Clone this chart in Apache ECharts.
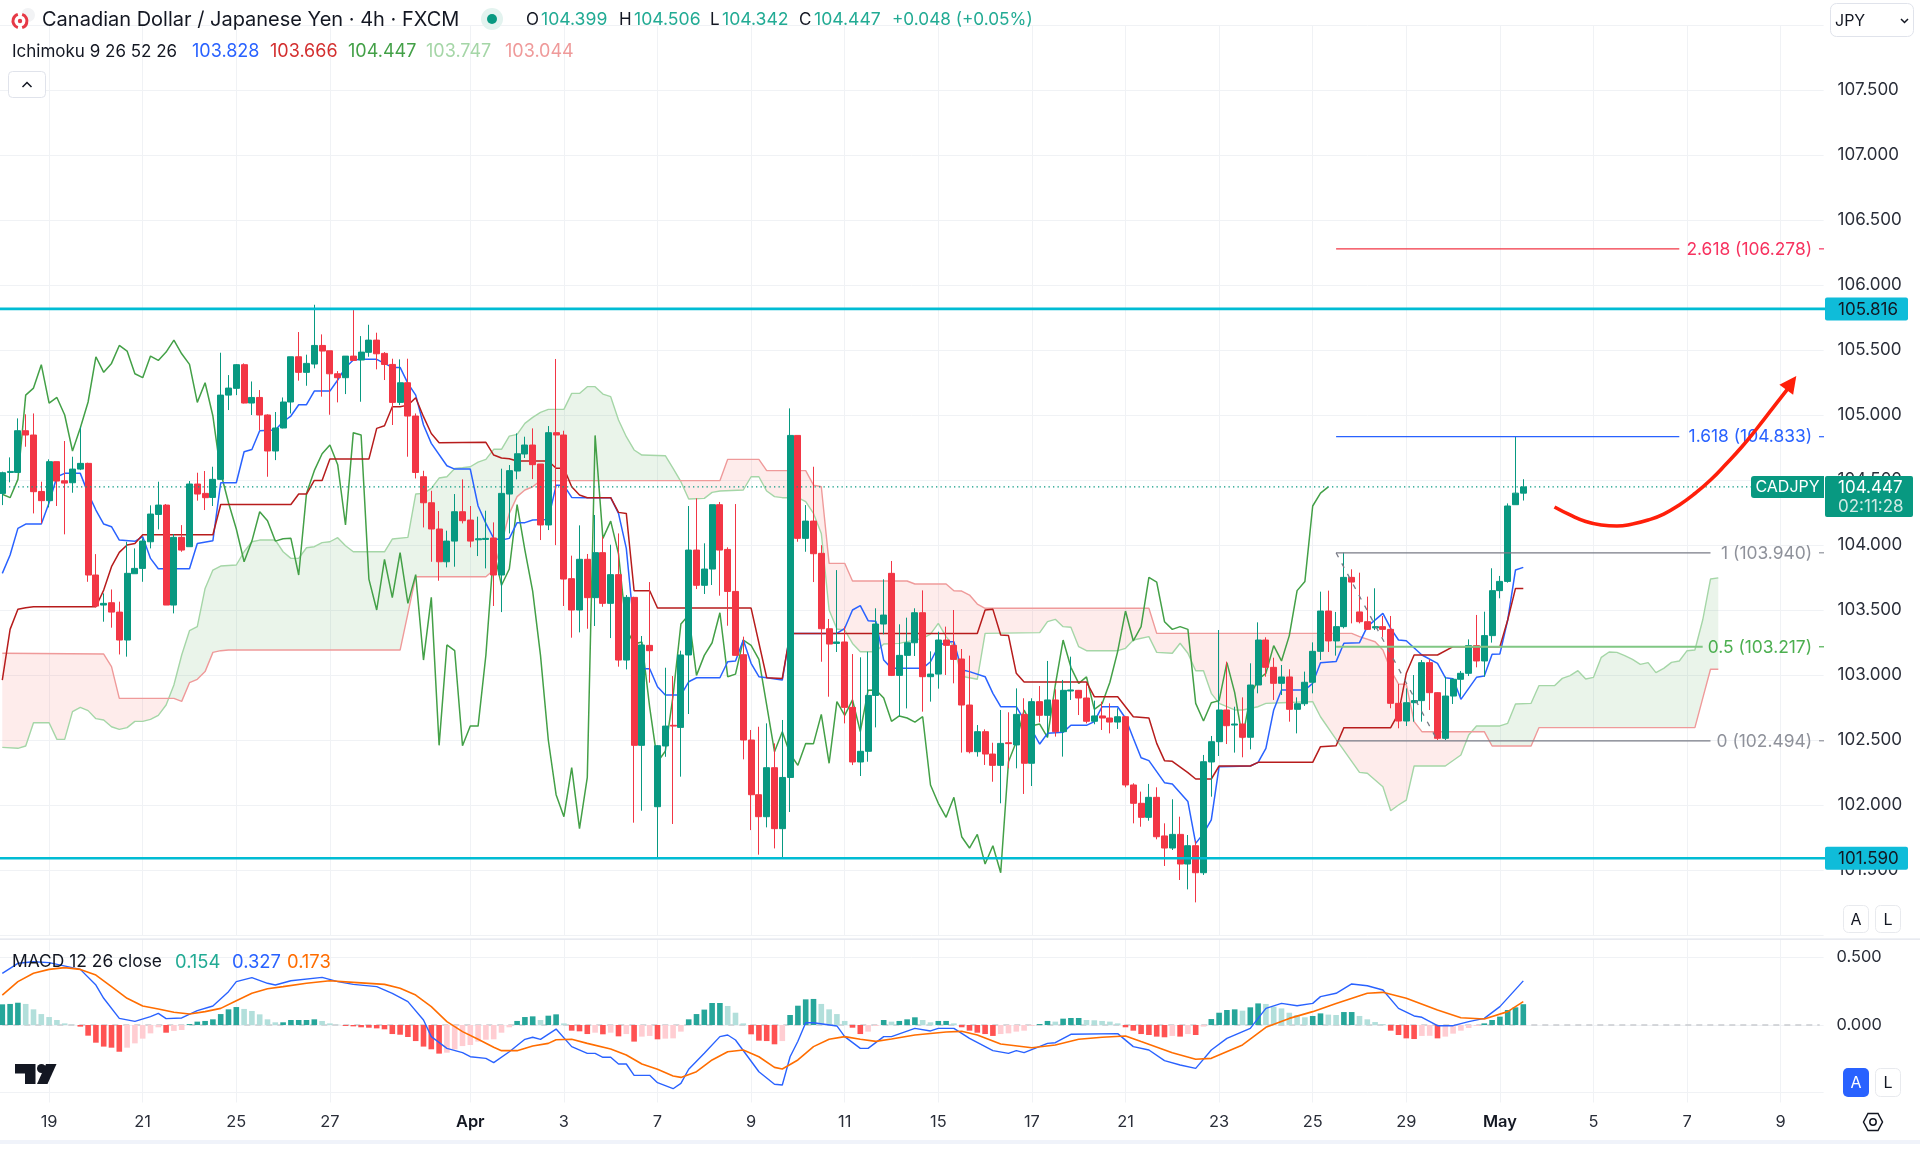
<!DOCTYPE html>
<html><head><meta charset="utf-8">
<style>html,body{margin:0;padding:0;background:#fff}#c{width:1920px;height:1151px}</style>
<script src="https://cdn.jsdelivr.net/npm/echarts@6/dist/echarts.min.js"></script>
</head><body><div id="c"></div>
<script>
// ---------- tick labels (bar index -> date label) ----------
const tickBars  = [6,18,30,42,60,72,84,96,108,120,132,144,156,168,180,192,204,216,228];
const tickTexts = ['19','21','25','27','Apr','3','7','9','11','15','17','21','23','25','29','May','5','7','9'];
const barCount = 234;

// ---------- candles [open, close, low, high] ----------
const candles = [
[104.397,104.556,104.307,104.564],[104.558,104.566,104.482,104.674],[104.558,104.879,104.558,104.974],[104.879,104.846,104.756,105.005],
[104.846,104.410,104.243,105.012],[104.412,104.341,104.166,104.487],[104.341,104.641,104.289,104.659],[104.641,104.492,104.300,104.641],
[104.494,104.476,104.082,104.800],[104.479,104.584,104.402,104.679],[104.584,104.628,104.576,104.910],[104.628,103.769,103.717,104.633],
[103.769,103.530,103.520,103.930],[103.538,103.551,103.410,103.628],[103.556,103.484,103.364,103.658],[103.484,103.269,103.158,103.564],
[103.269,103.782,103.141,104.025],[103.779,103.820,103.779,103.974],[103.820,104.030,103.717,104.051],[104.025,104.238,103.974,104.305],
[104.235,104.307,104.120,104.487],[104.307,103.538,103.538,104.315],[103.538,104.059,103.474,104.084],[104.059,103.961,103.948,104.153],
[103.987,104.469,103.987,104.492],[104.469,104.392,104.341,104.556],[104.397,104.364,104.269,104.569],[104.366,104.505,104.300,104.602],
[104.505,105.153,104.500,105.479],[105.153,105.207,105.038,105.307],[105.205,105.387,105.153,105.392],[105.387,105.092,105.089,105.397],
[105.092,105.135,105.000,105.258],[105.135,105.000,104.884,105.192],[105.000,104.723,104.525,105.005],[104.723,104.900,104.653,105.023],
[104.900,105.100,104.897,105.135],[105.100,105.448,105.012,105.448],[105.448,105.328,105.264,105.638],[105.328,105.397,105.225,105.464],
[105.392,105.535,105.359,105.848],[105.535,105.492,105.141,105.620],[105.494,105.317,105.002,105.494],[105.317,105.287,105.097,105.338],
[105.287,105.453,105.161,105.453],[105.453,105.420,105.420,105.807],[105.423,105.484,105.102,105.607],[105.482,105.576,105.448,105.694],
[105.576,105.471,105.351,105.633],[105.474,105.389,105.269,105.484],[105.389,105.097,104.923,105.433],[105.097,105.248,105.076,105.428],
[105.248,104.992,104.679,105.433],[104.992,104.558,104.512,105.012],[104.525,104.325,104.135,104.571],[104.325,104.123,103.871,104.417],
[104.123,103.871,103.725,104.261],[103.871,104.030,103.828,104.110],[104.030,104.256,103.833,104.392],[104.256,104.187,104.166,104.505],
[104.192,104.030,103.982,104.300],[104.040,104.048,103.915,104.218],[104.043,104.051,103.820,104.264],[104.054,103.769,103.531,104.174],
[103.769,104.397,103.484,104.587],[104.392,104.572,104.089,104.615],[104.569,104.702,104.505,104.859],[104.700,104.769,104.669,104.833],
[104.769,104.618,104.507,104.897],[104.623,104.154,104.038,104.623],[104.154,104.864,104.115,104.915],[104.864,104.846,103.999,105.431],
[104.846,103.738,103.531,104.879],[103.741,103.500,103.287,103.918],[103.500,103.890,103.328,104.151],[103.890,103.595,103.356,103.931],
[103.595,103.941,103.377,104.231],[103.941,103.551,103.525,104.064],[103.551,103.772,103.284,104.002],[103.772,103.115,103.064,104.089],
[103.115,103.597,103.043,103.615],[103.597,102.459,101.864,103.602],[102.459,103.231,101.956,103.300],[103.228,103.187,102.941,103.715],
[101.987,102.456,101.597,102.461],[102.454,102.607,102.371,103.056],[102.613,102.607,101.854,102.992],[102.597,103.154,102.218,103.187],
[103.154,103.961,102.700,104.300],[103.961,103.690,103.661,104.359],[103.690,103.815,103.623,104.013],[103.815,104.310,103.692,104.310],
[104.310,103.961,103.610,104.331],[103.966,103.643,103.379,103.982],[103.643,103.151,103.151,104.315],[103.156,102.500,102.351,103.295],
[102.500,102.079,101.807,102.577],[102.079,101.910,101.618,102.602],[101.910,102.287,101.828,102.628],[102.287,101.818,101.666,102.474],
[101.818,102.212,101.597,102.654],[102.212,104.843,101.946,105.051],[104.843,104.051,104.025,104.843],[104.051,104.184,103.948,104.307],
[104.184,103.933,103.715,104.602],[103.936,103.356,103.102,103.999],[103.356,103.238,102.833,103.431],[103.243,103.254,103.177,103.807],
[103.254,102.751,102.628,103.372],[102.751,102.331,102.307,103.161],[102.331,102.413,102.223,103.136],[102.413,102.843,102.333,103.179],
[102.843,103.392,102.597,103.513],[103.392,103.461,103.313,103.736],[103.782,102.997,102.992,103.877],[102.997,103.151,102.684,103.390],
[103.151,103.248,102.743,103.441],[103.248,103.479,103.146,103.513],[103.479,102.987,102.718,103.651],[102.987,103.007,102.795,103.182],
[103.007,103.269,102.895,103.333],[103.269,103.228,103.000,103.372],[103.228,103.120,102.936,103.500],[103.123,102.769,102.403,103.200],
[102.769,102.410,102.397,103.149],[102.410,102.564,102.372,102.615],[102.564,102.392,102.308,102.582],[102.392,102.305,102.179,102.479],
[102.305,102.474,102.013,102.731],[102.479,102.472,102.282,102.713],[102.462,102.697,102.282,102.897],[102.697,102.321,102.085,102.821],
[102.321,102.795,102.146,102.821],[102.795,102.690,102.636,102.915],[102.690,102.808,102.521,103.108],[102.808,102.564,102.526,102.890],
[102.564,102.882,102.372,102.962],[102.877,102.885,102.808,103.141],[102.882,102.823,102.692,102.885],[102.823,102.644,102.628,102.936],
[102.644,102.685,102.621,102.803],[102.685,102.669,102.577,102.795],[102.669,102.638,102.551,102.782],[102.638,102.679,102.585,102.744],
[102.679,102.154,102.136,102.685],[102.154,102.013,101.859,102.167],[102.013,101.905,101.833,102.103],[101.905,102.059,101.879,102.162],
[102.059,101.756,101.736,102.136],[101.762,101.669,101.531,101.859],[101.669,101.774,101.654,102.044],[101.774,101.546,101.423,101.910],
[101.546,101.687,101.351,101.769],[101.687,101.479,101.251,101.726],[101.479,102.333,101.462,102.385],[102.331,102.487,102.064,102.531],
[102.487,102.731,102.377,103.346],[102.731,102.610,102.469,103.103],[102.615,102.623,102.403,102.756],[102.623,102.521,102.367,102.828],
[102.521,102.923,102.428,103.090],[102.923,103.269,102.859,103.405],[103.269,103.059,102.987,103.290],[103.059,102.936,102.808,103.133],
[102.936,102.985,102.846,103.077],[102.985,102.736,102.641,103.044],[102.736,102.779,102.551,102.828],[102.779,102.944,102.762,103.026],
[102.944,103.182,102.859,103.251],[103.182,103.492,103.115,103.641],[103.492,103.262,103.177,103.649],[103.262,103.372,103.149,103.485],
[103.372,103.751,103.359,103.941],[103.751,103.715,103.397,103.813],[103.485,103.410,103.397,103.787],[103.410,103.351,103.346,103.603],
[103.362,103.372,103.346,103.667],[103.372,103.351,103.290,103.454],[103.351,102.782,102.744,103.454],[102.782,102.646,102.590,102.931],
[102.646,102.787,102.608,102.897],[102.787,102.803,102.641,103.000],[102.803,103.095,102.641,103.115],[103.095,102.864,102.731,103.121],
[102.864,102.513,102.500,102.867],[102.513,102.838,102.500,102.987],[102.838,102.967,102.777,102.974],[102.967,103.013,102.833,103.031],
[103.013,103.226,102.992,103.274],[103.226,103.108,103.059,103.462],[103.108,103.303,102.987,103.487],[103.303,103.649,103.249,103.821],
[103.649,103.720,103.590,103.762],[103.720,104.300,103.710,104.320],[104.310,104.399,104.310,104.833],[104.399,104.447,104.342,104.506]
];

// ---------- Ichimoku, as [bar, price] vertices ----------
const tenkan = [[0,103.782],[1,103.923],[2,104.128],[3,104.161],[5,104.161],[6,104.325],[7,104.525],[8,104.551],[10,104.551],[11,104.397],[12,104.269],[13,104.161],[14,104.141],[15,104.038],[17,104.028],[18,104.064],[19,103.897],[20,103.817],[24,103.817],[25,104.012],[27,104.033],[28,104.479],[30,104.479],[31,104.717],[32,104.735],[33,104.879],[35,104.884],[36,104.948],[37,104.992],[38,105.079],[39,105.079],[40,105.184],[42,105.184],[43,105.269],[44,105.366],[45,105.423],[46,105.428],[48,105.428],[50,105.366],[51,105.366],[52,105.243],[53,105.153],[54,104.923],[55,104.782],[57,104.610],[58,104.584],[60,104.584],[61,104.300],[62,104.166],[63,104.051],[64,104.038],[65,104.051],[66,104.172],[67,104.172],[68,104.192],[70,104.197],[71,104.459],[72,104.459],[73,104.366],[75,104.364],[78,104.364],[79,104.243],[80,103.974],[81,103.359],[82,103.048],[83,103.048],[84,102.910],[85,102.846],[87,102.846],[88,102.948],[89,102.979],[92,102.979],[93,103.102],[94,103.107],[95,103.269],[96,103.090],[97,102.987],[98,102.979],[100,102.961],[101,103.320],[107,103.320],[108,103.359],[109,103.500],[110,103.533],[111,103.418],[112,103.413],[113,103.115],[114,103.051],[118,103.051],[119,103.102],[120,103.218],[121,103.256],[122,103.256],[123,103.040],[124,103.026],[126,102.987],[127,102.859],[128,102.756],[130,102.756],[131,102.654],[132,102.577],[133,102.469],[134,102.551],[136,102.559],[137,102.613],[139,102.613],[140,102.641],[141,102.756],[143,102.756],[144,102.667],[145,102.513],[146,102.364],[147,102.341],[149,102.172],[150,102.162],[152,102.026],[153,101.705],[154,101.782],[155,101.885],[156,102.295],[160,102.300],[161,102.328],[162,102.436],[163,102.731],[164,102.885],[167,102.885],[168,102.936],[169,103.095],[171,103.103],[172,103.244],[174,103.249],[175,103.372],[177,103.474],[178,103.359],[179,103.269],[180,103.264],[182,103.154],[184,103.090],[185,102.979],[186,102.972],[187,102.813],[189,102.982],[190,102.992],[191,103.159],[192,103.162],[193,103.423],[194,103.808],[195,103.828]];
const kijun = [[0,102.961],[1,103.351],[2,103.505],[3,103.517],[4,103.525],[12,103.525],[13,103.653],[14,103.833],[15,103.943],[16,104.000],[17,104.012],[18,104.079],[27,104.079],[28,104.312],[37,104.312],[38,104.392],[39,104.392],[40,104.497],[41,104.497],[42,104.661],[47,104.661],[48,104.897],[49,104.917],[50,105.064],[51,105.064],[52,105.076],[53,105.133],[54,104.987],[55,104.858],[56,104.787],[62,104.790],[63,104.692],[64,104.669],[65,104.664],[66,104.646],[70,104.646],[71,104.590],[72,104.590],[73,104.448],[74,104.384],[75,104.364],[78,104.364],[79,104.251],[80,104.243],[81,103.648],[83,103.648],[84,103.515],[96,103.515],[98,102.979],[100,102.974],[101,103.320],[125,103.320],[126,103.500],[127,103.505],[128,103.308],[129,103.303],[130,103.013],[131,102.946],[139,102.946],[140,102.833],[143,102.833],[145,102.679],[147,102.669],[148,102.474],[149,102.341],[150,102.336],[152,102.249],[153,102.200],[155,102.200],[156,102.300],[160,102.300],[161,102.328],[168,102.328],[169,102.449],[171,102.456],[172,102.595],[178,102.595],[179,102.705],[180,103.013],[181,103.154],[184,103.154],[186,103.218],[192,103.218],[193,103.423],[194,103.666],[195,103.666]];
const chikou = [104.39,104.364,104.505,105.153,105.207,105.387,105.092,105.135,105.000,104.723,104.900,105.100,105.448,105.328,105.397,105.535,105.492,105.317,105.287,105.453,105.420,105.484,105.576,105.471,105.389,105.097,105.248,104.992,104.558,104.325,104.123,103.871,104.030,104.256,104.187,104.030,104.048,104.051,103.769,104.397,104.572,104.702,104.769,104.618,104.154,104.864,104.846,103.738,103.500,103.890,103.595,103.941,103.551,103.772,103.115,103.597,102.459,103.231,103.187,102.456,102.607,102.607,103.154,103.961,103.690,103.815,104.310,103.961,103.643,103.151,102.500,102.079,101.910,102.287,101.818,102.212,104.843,104.051,104.184,103.933,103.356,103.238,103.254,102.751,102.331,102.413,102.843,103.392,103.461,102.997,103.151,103.248,103.479,102.987,103.007,103.269,103.228,103.120,102.769,102.410,102.564,102.392,102.305,102.474,102.472,102.697,102.321,102.795,102.690,102.808,102.564,102.882,102.885,102.823,102.644,102.685,102.669,102.638,102.679,102.154,102.013,101.905,102.059,101.756,101.669,101.774,101.546,101.687,101.479,102.333,102.487,102.731,102.610,102.623,102.521,102.923,103.269,103.059,102.936,102.985,102.736,102.779,102.944,103.182,103.492,103.262,103.372,103.751,103.715,103.410,103.351,103.372,103.351,102.782,102.646,102.787,102.803,103.095,102.864,102.513,102.838,102.967,103.013,103.226,103.108,103.303,103.649,103.720,104.300,104.399,104.447];
const senkouA = [[0,102.443],[2,102.436],[3,102.454],[4,102.633],[6,102.633],[7,102.505],[8,102.505],[9,102.718],[10,102.751],[11,102.726],[12,102.664],[13,102.654],[14,102.602],[15,102.582],[16,102.595],[17,102.643],[18,102.643],[19,102.659],[20,102.690],[21,102.769],[22,102.923],[23,103.154],[24,103.341],[25,103.372],[26,103.666],[27,103.807],[28,103.838],[30,103.846],[31,103.948],[32,104.025],[33,104.038],[35,104.038],[36,103.948],[37,103.897],[38,103.897],[39,103.979],[40,103.987],[41,104.018],[42,104.025],[43,104.056],[44,103.994],[45,103.948],[49,103.948],[50,104.046],[52,104.059],[53,104.392],[54,104.397],[55,104.435],[56,104.515],[57,104.525],[58,104.589],[59,104.594],[60,104.602],[61,104.638],[62,104.659],[63,104.736],[64,104.736],[65,104.838],[66,104.851],[67,104.936],[68,104.982],[69,105.020],[70,105.043],[72,105.043],[73,105.166],[74,105.166],[75,105.218],[76,105.218],[77,105.161],[78,105.141],[79,104.961],[80,104.833],[81,104.731],[82,104.692],[85,104.687],[86,104.590],[87,104.487],[88,104.354],[90,104.359],[91,104.405],[92,104.415],[95,104.423],[96,104.525],[97,104.525],[98,104.415],[99,104.372],[100,104.364],[102,104.364],[103,104.333],[104,104.243],[105,104.089],[106,103.500],[107,103.354],[108,103.346],[109,103.243],[110,103.179],[112,103.179],[113,103.238],[115,103.243],[118,103.282],[119,103.315],[120,103.397],[121,103.295],[122,103.218],[123,102.990],[125,102.967],[126,103.320],[133,103.326],[134,103.410],[135,103.428],[136,103.372],[137,103.367],[138,103.218],[139,103.187],[143,103.187],[144,103.205],[145,103.269],[147,103.295],[148,103.174],[150,103.167],[151,103.244],[152,103.167],[153,103.033],[154,103.033],[155,102.859],[156,102.782],[158,102.731],[159,102.731],[161,102.756],[162,102.782],[164,102.787],[168,102.795],[169,102.679],[171,102.505],[174,102.251],[175,102.244],[177,102.141],[178,101.956],[179,102.000],[180,102.038],[181,102.300],[185,102.300],[187,102.385],[188,102.538],[189,102.608],[192,102.608],[193,102.628],[194,102.777],[196,102.782],[197,102.918],[199,102.918],[200,102.974],[201,102.995],[202,103.033],[203,102.969],[204,102.982],[205,103.136],[206,103.177],[207,103.174],[208,103.149],[209,103.120],[210,103.082],[211,103.095],[212,103.018],[213,103.051],[214,103.097],[215,103.108],[216,103.187],[217,103.192],[218,103.423],[219,103.738],[220,103.747]];
const senkouB = [[0,103.167],[13,103.161],[14,103.064],[15,102.820],[22,102.820],[23,102.797],[24,102.941],[25,102.967],[26,103.026],[27,103.174],[28,103.187],[29,103.192],[51,103.192],[52,103.474],[53,103.756],[62,103.756],[63,103.807],[64,104.013],[65,104.243],[66,104.372],[67,104.423],[68,104.448],[69,104.495],[92,104.495],[93,104.659],[97,104.659],[98,104.572],[103,104.572],[104,104.461],[105,104.448],[106,103.859],[108,103.859],[109,103.723],[116,103.723],[117,103.700],[121,103.700],[122,103.648],[123,103.646],[124,103.615],[125,103.546],[126,103.513],[147,103.513],[148,103.320],[173,103.320],[174,103.295],[176,103.256],[177,103.192],[178,103.038],[179,102.931],[180,102.928],[181,102.641],[182,102.564],[190,102.564],[191,102.454],[196,102.454],[197,102.595],[217,102.595],[218,102.820],[219,103.044],[220,103.044]];

// ---------- annotations ----------
const levelPrices = [105.816, 101.590];
const lastPrice = 104.447;
const fibLevels = ['2.618','1.618','1','0.5','0'];
const fibPrices = [106.278,104.833,103.940,103.217,102.494];
const fibStart  = [171,171,171,171,171];
const fibEnd    = [215,215,219,218,219];
const fibColors = ['#F23645','#2962FF','#787B86','#81C784','#787B86'];
const fibText   = ['#F7325F','#2962FF','#8F929B','#4CAF50','#8F929B'];
const fibTrend  = [[171,103.940],[184,102.494]];
const arrowPath = [[199,104.292],[201,104.231],[203,104.181],[205,104.154],[207,104.146],[209,104.162],[211,104.192],[213,104.238],[215,104.308],[217,104.396],[219,104.500],[221,104.623],[223,104.754],[225,104.900],[227,105.054],[229,105.208]];
const arrowTip  = [[230,105.300]];

// ---------- MACD ----------
const macdHist = [.153,.156,.165,.156,.116,.081,.059,.037,.012,.002,-.012,-.079,-.131,-.160,-.168,-.198,-.168,-.136,-.101,-.062,-.017,-.057,-.044,-.037,.007,.025,.030,.042,.081,.116,.133,.119,.104,.079,.042,.020,.020,.037,.037,.037,.042,.030,.012,.002,-.007,-.010,-.017,-.020,-.025,-.032,-.067,-.072,-.089,-.119,-.160,-.180,-.212,-.205,-.180,-.156,-.148,-.123,-.109,-.106,-.057,-.017,.030,.059,.064,.037,.069,.079,.012,-.042,-.047,-.067,-.057,-.069,-.057,-.084,-.067,-.123,-.086,-.081,-.106,-.101,-.099,-.049,.042,.081,.114,.163,.163,.141,.091,.012,-.069,-.116,-.119,-.143,-.119,.074,.143,.190,.193,.156,.116,.081,.030,-.020,-.067,-.049,-.007,.037,.025,.030,.042,.057,.037,.020,.030,.030,.012,-.017,-.042,-.057,-.067,-.081,-.067,-.062,-.049,-.042,-.007,.007,.030,.025,.047,.052,.052,.037,.035,.030,.025,.012,-.017,-.042,-.067,-.074,-.086,-.091,-.081,-.086,-.067,-.074,-.012,.044,.091,.111,.116,.106,.131,.160,.156,.136,.123,.091,.074,.057,.067,.086,.077,.074,.096,.096,.067,.042,.022,.007,-.042,-.074,-.099,-.104,-.081,-.080,-.099,-.086,-.064,-.042,-.022,-.007,.012,.037,.062,.111,.131,.154];
const macdLine = [[0,.383],[2,.457],[4,.469],[6,.462],[10,.412],[12,.296],[13,.198],[15,.049],[17,.027],[19,.062],[20,.086],[21,.047],[23,.052],[25,.106],[27,.141],[29,.247],[30,.321],[32,.351],[34,.309],[35,.296],[37,.328],[41,.353],[43,.321],[45,.301],[48,.284],[50,.235],[52,.173],[54,.037],[55,-.086],[57,-.173],[59,-.205],[60,-.235],[62,-.247],[63,-.279],[65,-.198],[67,-.106],[68,-.091],[69,-.106],[71,-.030],[73,-.160],[75,-.210],[76,-.210],[77,-.239],[78,-.239],[79,-.289],[80,-.289],[81,-.373],[83,-.373],[84,-.427],[86,-.472],[87,-.432],[88,-.328],[90,-.210],[92,-.086],[93,-.074],[94,-.111],[97,-.346],[99,-.439],[100,-.444],[101,-.235],[102,-.120],[103,.017],[104,.017],[107,-.007],[108,-.086],[110,-.173],[111,-.173],[113,-.086],[114,-.086],[117,-.025],[119,-.044],[120,-.025],[122,-.025],[124,-.099],[127,-.190],[129,-.210],[130,-.190],[131,-.205],[134,-.136],[135,-.131],[137,-.069],[143,-.064],[145,-.160],[147,-.185],[149,-.264],[151,-.296],[153,-.321],[155,-.185],[157,-.099],[160,-.025],[162,.123],[164,.160],[166,.143],[168,.160],[169,.210],[171,.235],[173,.304],[175,.291],[177,.259],[179,.123],[181,.067],[182,.057],[184,-.005],[186,-.005],[188,.025],[190,.049],[192,.136],[195,.327]];
const macdSignal = [[0,.222],[2,.321],[4,.383],[6,.412],[8,.425],[10,.412],[12,.370],[14,.284],[16,.198],[18,.141],[20,.119],[22,.094],[24,.081],[26,.099],[28,.123],[30,.180],[32,.235],[34,.269],[36,.284],[39,.309],[42,.328],[45,.316],[49,.301],[51,.272],[53,.222],[55,.136],[57,.025],[59,-.049],[61,-.106],[63,-.165],[64,-.190],[66,-.190],[68,-.156],[70,-.136],[71,-.109],[73,-.106],[75,-.136],[78,-.178],[80,-.222],[82,-.289],[84,-.328],[86,-.378],[87,-.388],[89,-.346],[91,-.259],[93,-.198],[95,-.185],[97,-.235],[99,-.314],[100,-.326],[102,-.259],[104,-.160],[106,-.106],[108,-.086],[110,-.106],[112,-.121],[114,-.104],[117,-.074],[121,-.052],[123,-.047],[125,-.074],[128,-.141],[132,-.168],[135,-.148],[138,-.106],[141,-.091],[144,-.081],[146,-.123],[150,-.205],[153,-.254],[155,-.247],[159,-.148],[162,-.017],[165,.049],[168,.099],[171,.160],[175,.235],[177,.242],[180,.198],[184,.111],[187,.054],[190,.044],[193,.099],[195,.173]];
const macdZero = [[0,0],[233,0]];

// ---------- layout / palette ----------
const FONT = 'Inter, "Noto Sans", sans-serif';
const UP = '#089981', DOWN = '#F23645', GRID = '#F0F2F5', TXT = '#131722';
const plotL = -1.6, plotW = 1825.2, plotR = plotL + plotW;
const AXIS_FS = 17;

const categories = Array.from({length: barCount}, (_, i) => {
  const k = tickBars.indexOf(i); return k >= 0 ? tickTexts[k] : '';
});
const isTick = i => tickBars.includes(i);

function lerp(pts, x) {
  for (let k = 0; k < pts.length - 1; k++) {
    const a = pts[k], b = pts[k + 1];
    if (x >= a[0] && x <= b[0]) return a[1] + (b[1] - a[1]) * (x - a[0]) / (b[0] - a[0]);
  }
  return pts[pts.length - 1][1];
}

function renderCloud(params, api) {
  const polys = []; let top = [], bot = [], sign = null, prev = null;
  for (let k = 0; k <= 220; k++) {
    const a = lerp(senkouA, k), b = lerp(senkouB, k), s = a >= b;
    const P = api.coord([k, a]), Q = api.coord([k, b]);
    if (sign !== null && s !== sign) {
      const d0 = prev.a - prev.b, d1 = a - b, t = d0 / (d0 - d1);
      const X = [prev.P[0] + t * (P[0] - prev.P[0]), prev.P[1] + t * (P[1] - prev.P[1])];
      top.push(X); bot.push(X);
      polys.push({sign, pts: top.concat(bot.slice().reverse())});
      top = [X]; bot = [X];
    }
    top.push(P); bot.push(Q); sign = s; prev = {a, b, P};
  }
  polys.push({sign, pts: top.concat(bot.slice().reverse())});
  return {type: 'group', children: polys.map(p => ({
    type: 'polygon', shape: {points: p.pts}, silent: true,
    style: {fill: p.sign ? 'rgba(67,160,71,0.115)' : 'rgba(244,67,54,0.10)'}
  }))};
}

function renderFib(params, api) {
  const k = params.dataIndex, p = fibPrices[k];
  const a = api.coord([fibStart[k], p]), b = api.coord([fibEnd[k], p]);
  return {type: 'group', silent: true, children: [
    {type: 'line', shape: {x1: a[0], y1: a[1], x2: b[0], y2: b[1]},
      style: {stroke: fibColors[k], lineWidth: k === 3 ? 2 : 1.2}},
    {type: 'text', style: {text: fibLevels[k] + ' (' + p.toFixed(3) + ')', x: 1812, y: a[1] + 0.5, align: 'right',
      verticalAlign: 'middle', fill: fibText[k], font: '17.4px ' + FONT}},
    {type: 'line', shape: {x1: 1819, y1: a[1], x2: 1824, y2: a[1]}, style: {stroke: fibText[k], lineWidth: 1.2}}
  ]};
}

function renderLevel(params, api) {
  const y = api.coord([0, levelPrices[params.dataIndex]])[1];
  return {type: 'group', silent: true, children: [
    {type: 'line', shape: {x1: 0, y1: y, x2: 1825, y2: y}, style: {stroke: '#00BCD4', lineWidth: 2.6}},
    {type: 'rect', shape: {x: 1825, y: y - 11.5, width: 83, height: 23, r: 2}, style: {fill: '#0FBCD9'}},
    {type: 'text', style: {text: levelPrices[params.dataIndex].toFixed(3), x: 1838, y: y + 1, verticalAlign: 'middle', fill: TXT, font: AXIS_FS + 'px ' + FONT}}
  ]};
}

function renderLast(params, api) {
  const y = api.coord([0, lastPrice])[1];
  return {type: 'group', silent: true, children: [
    {type: 'line', shape: {x1: 0, y1: y, x2: 1751, y2: y}, style: {stroke: UP, lineWidth: 1.3, lineDash: [1.3, 3.2]}},
    {type: 'rect', shape: {x: 1751, y: y - 11, width: 73, height: 22, r: [3, 0, 0, 3]}, style: {fill: UP}},
    {type: 'text', style: {text: 'CADJPY', x: 1787.5, y: y + 0.5, align: 'center', verticalAlign: 'middle', fill: '#fff', font: '16px ' + FONT}},
    {type: 'rect', shape: {x: 1825, y: y - 11, width: 88, height: 41, r: 2}, style: {fill: UP}},
    {type: 'text', style: {text: lastPrice.toFixed(3), x: 1838, y: y + 1, verticalAlign: 'middle', fill: '#fff', font: AXIS_FS + 'px ' + FONT}},
    {type: 'text', style: {text: '02:11:28', x: 1838, y: y + 20, verticalAlign: 'middle', fill: '#CFEAE4', font: AXIS_FS + 'px ' + FONT}}
  ]};
}

function renderArrowHead(params, api) {
  const tip = api.coord(arrowTip[0]);
  const n = arrowPath.length, from = api.coord(arrowPath[n - 2]);
  const ang = Math.atan2(tip[1] - from[1], tip[0] - from[0]);
  const len = 17, w = 8.5;
  const bx = tip[0] - Math.cos(ang) * len, by = tip[1] - Math.sin(ang) * len;
  const nx = -Math.sin(ang), ny = Math.cos(ang);
  return {type: 'polygon', silent: true, shape: {points: [tip, [bx + nx * w, by + ny * w], [bx - nx * w, by - ny * w]]}, style: {fill: '#FF1F0A'}};
}

function histColor(p) {
  const v = macdHist[p.dataIndex], prev = p.dataIndex > 0 ? macdHist[p.dataIndex - 1] : v;
  if (v >= 0) return v >= prev ? '#26A69A' : '#B2DFDB';
  return v <= prev ? '#FF5252' : '#FFCDD2';
}

// ---------- chrome (non-data) ----------
const txt = (x, y, s, fill, size, extra) => ({type: 'text', silent: true, z: 50,
  style: Object.assign({text: s, x, y, verticalAlign: 'middle', fill, font: (size || 18) + 'px ' + FONT}, extra || {})});
const box = (x, y, w, h, fill, stroke, r) => ({type: 'rect', silent: true, z: 49,
  shape: {x, y, width: w, height: h, r: r || 4}, style: {fill, stroke: stroke || null, lineWidth: 1}});
const poly = (pts, style) => ({type: 'polygon', silent: true, z: 50, shape: {points: pts}, style});
const pline = (pts, style) => ({type: 'polyline', silent: true, z: 50, shape: {points: pts}, style: Object.assign({fill: null}, style)});

const hdrGreen = '#22AB94';
const graphics = [
  // panel separators
  {type: 'rect', silent: true, z: 40, shape: {x: 0, y: 938.5, width: 1920, height: 1.2}, style: {fill: '#E0E3EB'}},
  {type: 'rect', silent: true, z: 40, shape: {x: 0, y: 1140, width: 1920, height: 4}, style: {fill: '#F0F3FA'}},
  // flag badge
  {type: 'circle', silent: true, z: 48, shape: {cx: 28, cy: 15, r: 7}, style: {fill: '#F2F3F5'}},
  {type: 'circle', silent: true, z: 49, shape: {cx: 20, cy: 21, r: 8.5}, style: {fill: '#fff'}},
  {type: 'sector', silent: true, z: 50, shape: {cx: 20, cy: 21, r: 8.5, r0: 5.5, startAngle: Math.PI * 0.6, endAngle: Math.PI * 1.4}, style: {fill: '#E63946'}},
  {type: 'sector', silent: true, z: 50, shape: {cx: 20, cy: 21, r: 8.5, r0: 5.5, startAngle: -Math.PI * 0.4, endAngle: Math.PI * 0.4}, style: {fill: '#E63946'}},
  {type: 'circle', silent: true, z: 50, shape: {cx: 20, cy: 21, r: 2.2}, style: {fill: '#E63946'}},
  // header
  txt(42, 20, 'Canadian Dollar / Japanese Yen · 4h · FXCM', TXT, 20),
  {type: 'circle', silent: true, z: 49, shape: {cx: 492, cy: 19, r: 11}, style: {fill: '#E3F3EF'}},
  {type: 'circle', silent: true, z: 50, shape: {cx: 492, cy: 19, r: 5}, style: {fill: UP}},
  txt(526, 20, 'O', TXT, 17), txt(541, 20, '104.399', hdrGreen, 17.6),
  txt(619, 20, 'H', TXT, 17), txt(634, 20, '104.506', hdrGreen, 17.6),
  txt(710, 20, 'L', TXT, 17), txt(722, 20, '104.342', hdrGreen, 17.6),
  txt(799, 20, 'C', TXT, 17), txt(814, 20, '104.447', hdrGreen, 17.6),
  txt(892, 20, '+0.048 (+0.05%)', hdrGreen, 17.2),
  txt(12, 52, 'Ichimoku 9 26 52 26', TXT, 17),
  txt(192, 52, '103.828', '#2962FF'), txt(270, 52, '103.666', '#D32F2F'),
  txt(348, 52, '104.447', '#43A047'), txt(426, 52, '103.747', '#A5D6A7'), txt(505, 52, '103.044', '#EF9A9A'),
  // collapse button
  box(8.5, 71.5, 37, 26, '#fff', '#E0E3EB', 4),
  pline([[22.5, 87], [27, 82.5], [31.5, 87]], {stroke: TXT, lineWidth: 1.5}),
  // currency selector
  box(1830.5, 3.5, 83, 33, '#fff', '#E0E3EB', 6),
  txt(1835, 21, 'JPY', TXT, 16),
  pline([[1901, 19], [1904.5, 22.5], [1908, 19]], {stroke: TXT, lineWidth: 1.5}),
  // A / L buttons
  box(1843.5, 905.5, 25, 27, '#fff', '#E8EAEE', 5), txt(1856, 920, 'A', TXT, 16, {align: 'center'}),
  box(1875.5, 905.5, 25, 27, '#fff', '#E8EAEE', 5), txt(1888, 920, 'L', TXT, 16, {align: 'center'}),
  box(1843, 1068, 26, 29, '#2962FF', null, 5), txt(1856, 1083, 'A', '#fff', 16, {align: 'center'}),
  box(1875.5, 1068.5, 25, 28, '#fff', '#E8EAEE', 5), txt(1888, 1083, 'L', TXT, 16, {align: 'center'}),
  // settings glyph
  poly([[1863.5, 1122], [1868, 1113.5], [1878, 1113.5], [1882.5, 1122], [1878, 1130.5], [1868, 1130.5]], {fill: '#fff', stroke: TXT, lineWidth: 1.5}),
  {type: 'circle', silent: true, z: 51, shape: {cx: 1873, cy: 1122, r: 3.2}, style: {fill: '#fff', stroke: TXT, lineWidth: 1.5}},
  // logo
  poly([[15, 1064], [35.5, 1064], [35.5, 1084], [25, 1084], [25, 1073.5], [15, 1073.5]], {fill: TXT}),
  {type: 'circle', silent: true, z: 50, shape: {cx: 41.5, cy: 1068.5, r: 4.5}, style: {fill: TXT}},
  poly([[46, 1064], [56.5, 1064], [47.5, 1084], [37, 1084]], {fill: TXT}),
  // MACD legend
  txt(12, 962, 'MACD 12 26 close', TXT, 17.4),
  txt(175, 962, '0.154', hdrGreen, 18.4), txt(232, 962, '0.327', '#2962FF', 18.4), txt(287, 962, '0.173', '#FF6D00', 18.4)
];

const baseX = {type: 'category', data: categories, boundaryGap: true};
const lineOf = (name, data, color, width, z, extra) => Object.assign({
  name, type: 'line', data, showSymbol: false, symbol: 'none', z,
  lineStyle: {color, width}, silent: true, animation: false
}, extra || {});

const option = {
  animation: false,
  backgroundColor: '#fff',
  textStyle: {fontFamily: FONT},
  graphic: graphics,
  grid: [
    {left: plotL, width: plotW, top: 25, height: 910, outerBoundsMode: 'none'},
    {left: plotL, width: plotW, top: 957.5, height: 135, outerBoundsMode: 'none'},
    {left: plotL, width: plotW, top: 939.5, height: 163, outerBoundsMode: 'none'}
  ],
  xAxis: [
    Object.assign({}, baseX, {gridIndex: 0, axisLine: {show: false}, axisTick: {show: false}, axisLabel: {show: false},
      splitLine: {show: true, interval: isTick, alignWithLabel: true, lineStyle: {color: GRID, width: 1}}}),
    Object.assign({}, baseX, {gridIndex: 1, axisLine: {show: false}, axisTick: {show: false}, axisLabel: {show: false}, splitLine: {show: false}}),
    Object.assign({}, baseX, {gridIndex: 2, axisLine: {show: false}, axisTick: {show: false},
      axisLabel: {show: true, interval: isTick, margin: 12, color: '#2A2E39', fontSize: 16.4, fontFamily: FONT, hideOverlap: false,
        formatter: v => (v === 'Apr' || v === 'May') ? '{b|' + v + '}' : v,
        rich: {b: {fontWeight: 600, fontSize: 16.4, fontFamily: FONT, color: TXT}}},
      splitLine: {show: true, interval: isTick, alignWithLabel: true, lineStyle: {color: GRID, width: 1}}})
  ],
  yAxis: [
    {type: 'value', gridIndex: 0, position: 'right', min: 101, max: 108, interval: 0.5, scale: true,
      axisLine: {show: false}, axisTick: {show: false},
      splitLine: {show: true, lineStyle: {color: GRID, width: 1}},
      axisLabel: {margin: 14, color: '#2A2E39', fontSize: AXIS_FS, fontFamily: FONT, padding: [6, 0, 0, 0],
        formatter: v => (v >= 108 || v <= 101) ? '' : v.toFixed(3)}},
    {type: 'value', gridIndex: 1, position: 'right', min: -0.5, max: 0.5, interval: 0.5,
      axisLine: {show: false}, axisTick: {show: false},
      splitLine: {show: true, lineStyle: {color: GRID, width: 1}},
      axisLabel: {margin: 13, color: '#2A2E39', fontSize: 16.4, fontFamily: FONT, padding: [4, 0, 0, 0],
        formatter: v => v < 0 ? '' : v.toFixed(3)}},
    {type: 'value', gridIndex: 2, show: false, min: 0, max: 1}
  ],
  series: [
    {name: 'Cloud', type: 'custom', renderItem: renderCloud, data: [[0, 103]], z: 1, clip: true, silent: true},
    lineOf('Senkou A', senkouA, '#A5D6A7', 1.4, 1),
    lineOf('Senkou B', senkouB, '#EF9A9A', 1.4, 1),
    lineOf('Chikou', chikou, '#43A047', 1.5, 2),
    lineOf('Tenkan', tenkan, '#2962FF', 1.5, 2),
    lineOf('Kijun', kijun, '#B71C1C', 1.5, 2),
    {name: 'CADJPY', type: 'candlestick', data: candles, barWidth: 6.6, z: 3, silent: true,
      itemStyle: {color: UP, color0: DOWN, borderColor: UP, borderColor0: DOWN, borderWidth: 1}},
    lineOf('Fib trend', fibTrend, '#787B86', 1.3, 4, {lineStyle: {color: '#787B86', width: 1.3, type: [5, 7]}}),
    {name: 'Fib', type: 'custom', renderItem: renderFib, data: fibPrices.map((p, k) => [k, p]), z: 5, silent: true},
    {name: 'Levels', type: 'custom', renderItem: renderLevel, data: levelPrices.map(p => [0, p]), z: 6, silent: true},
    {name: 'Last', type: 'custom', renderItem: renderLast, data: [[0, lastPrice]], z: 6, silent: true},
    lineOf('Arrow', arrowPath, '#FF1F0A', 3.6, 7, {smooth: 0.5}),
    {name: 'ArrowHead', type: 'custom', renderItem: renderArrowHead, data: [arrowTip[0]], z: 7, silent: true},
    lineOf('MACD zero', macdZero, '#C9CBD0', 1.3, 1, {xAxisIndex: 1, yAxisIndex: 1, lineStyle: {color: '#C9CBD0', width: 1.3, type: [6, 5]}}),
    {name: 'Histogram', type: 'bar', xAxisIndex: 1, yAxisIndex: 1, data: macdHist, barWidth: 5.6, z: 2, silent: true,
      itemStyle: {color: histColor}},
    lineOf('MACD', macdLine, '#2962FF', 1.4, 3, {xAxisIndex: 1, yAxisIndex: 1}),
    lineOf('Signal', macdSignal, '#FF6D00', 1.6, 3, {xAxisIndex: 1, yAxisIndex: 1})
  ]
};
const chart = echarts.init(document.getElementById('c'), null, {renderer: 'canvas', width: 1920, height: 1151});
chart.setOption(option);
</script></body></html>
